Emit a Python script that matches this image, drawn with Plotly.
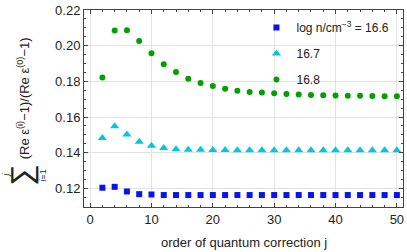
import plotly.graph_objects as go

j_order = [2, 4, 6, 8, 10, 12, 14, 16, 18, 20, 22, 24, 26, 28, 30, 32, 34, 36, 38, 40, 42, 44, 46, 48, 50]
vals_166 = [0.1204, 0.1209, 0.1183, 0.1168, 0.1166, 0.1163, 0.1163, 0.1163, 0.1163, 0.1163,
            0.1163, 0.1163, 0.1163, 0.1163, 0.1163, 0.1163, 0.1163, 0.1163, 0.1163, 0.1163,
            0.1163, 0.1163, 0.1163, 0.1163, 0.1163]
vals_167 = [0.1482, 0.1548, 0.1502, 0.1461, 0.1439, 0.1426, 0.1420, 0.1417, 0.1417, 0.1415,
            0.1415, 0.1414, 0.1414, 0.1414, 0.1414, 0.1414, 0.1414, 0.1414, 0.1414, 0.1414,
            0.1414, 0.1414, 0.1414, 0.1414, 0.1414]
vals_168 = [0.1822, 0.2085, 0.2086, 0.2026, 0.1957, 0.1896, 0.1852, 0.1815, 0.1791, 0.1774,
            0.1759, 0.1748, 0.1741, 0.1737, 0.1733, 0.1729, 0.1726, 0.1724, 0.1722, 0.1721,
            0.1720, 0.1719, 0.1718, 0.1717, 0.1716]
labels = ["log n/cm<sup>−3</sup> = 16.6", "16.7", "16.8"]

FONT = "Liberation Sans, Arial, sans-serif"
fig = go.Figure()
fig.add_trace(go.Scatter(x=j_order, y=vals_166, mode="markers", name=labels[0], legendgroup="a",
                         marker=dict(symbol="square", size=6, color="#0814ee")))
fig.add_trace(go.Scatter(x=j_order, y=vals_167, mode="markers", name=labels[1], legendgroup="b",
                         marker=dict(symbol="triangle-up", size=8, color="#00c8e0")))
fig.add_trace(go.Scatter(x=j_order, y=vals_168, mode="markers", name=labels[2], legendgroup="c",
                         marker=dict(symbol="circle", size=6, color="#00a000")))

axis_common = dict(showline=True, linecolor="#444", linewidth=1, mirror="allticks",
                   ticks="inside", ticklen=4, tickcolor="#444",
                   showgrid=True, gridcolor="#e3e3e3", gridwidth=1, zeroline=False,
                   tickfont=dict(family=FONT, size=13, color="#222"))
fig.update_xaxes(range=[-1, 51], tick0=0, dtick=10,
                 minor=dict(dtick=2, ticks="inside", ticklen=2, tickcolor="#444", showgrid=False),
                 **axis_common)
fig.update_yaxes(range=[0.1096, 0.2200], tick0=0.12, dtick=0.02, tickformat=".2f",
                 minor=dict(dtick=0.005, ticks="inside", ticklen=2, tickcolor="#444", showgrid=False),
                 **axis_common)

W, H = 407, 252
L, R, T, B = 84, 3, 8, 45
pw, ph = W - L - R, H - T - B


def px(x):
    return (x - L) / pw


def py(y):
    return (H - B - y) / ph


ann = [
    dict(text="(Re ε<sup>(i)</sup>−1)/(Re ε<sup>(0)</sup>−1)", x=px(23), y=py(97), size=13, angle=-90),
    dict(text="∑", x=px(22), y=py(175), size=30, angle=-90),
    dict(text="<i>j</i>", x=px(6), y=py(174), size=9, angle=-90),
    dict(text="<i>i</i>=1", x=px(43), y=py(175), size=9, angle=-90),
    dict(text="order of quantum correction j", x=px(244), y=py(243), size=13, angle=0),
]
for a in ann:
    fig.add_annotation(text=a["text"], x=a["x"], y=a["y"], xref="paper", yref="paper",
                       showarrow=False, textangle=a["angle"], xanchor="center", yanchor="middle",
                       font=dict(family=FONT, size=a["size"], color="#222"))

fig.update_layout(
    width=W, height=H, margin=dict(l=L, r=R, t=T, b=B),
    paper_bgcolor="white", plot_bgcolor="white",
    showlegend=True,
    legend=dict(x=px(257), y=py(11), xanchor="left", yanchor="top",
                bgcolor="rgba(0,0,0,0)", font=dict(family=FONT, size=12, color="#222"),
                traceorder="grouped", tracegroupgap=7, borderwidth=0),
)
fig.write_html("out.html", config={"displayModeBar": False},
               post_script="document.body.style.margin='0';")
